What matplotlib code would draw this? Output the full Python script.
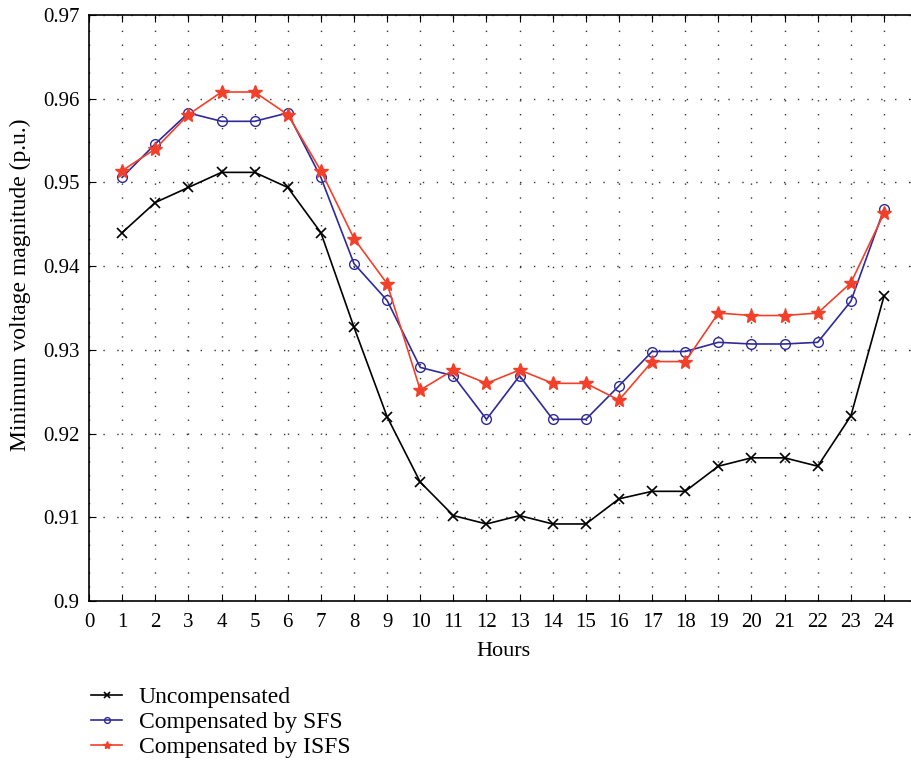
import matplotlib.pyplot as plt

hours = list(range(1, 25))

uncompensated = [0.9440, 0.9476, 0.9494, 0.9512, 0.9512, 0.9494, 0.9440, 0.9327,
                 0.9220, 0.9142, 0.9102, 0.9092, 0.9102, 0.9092, 0.9092, 0.9122,
                 0.9131, 0.9131, 0.9161, 0.9171, 0.9171, 0.9161, 0.9221, 0.9364]
sfs = [0.9506, 0.9546, 0.9583, 0.9573, 0.9573, 0.9583, 0.9506, 0.9403,
       0.9359, 0.9279, 0.9269, 0.9217, 0.9269, 0.9217, 0.9217, 0.9257,
       0.9298, 0.9298, 0.9309, 0.9307, 0.9307, 0.9309, 0.9358, 0.9468]
isfs = [0.9514, 0.9540, 0.9581, 0.9608, 0.9608, 0.9581, 0.9514, 0.9433,
        0.9379, 0.9252, 0.9276, 0.9260, 0.9276, 0.9260, 0.9260, 0.9240,
        0.9286, 0.9286, 0.9344, 0.9341, 0.9341, 0.9344, 0.9380, 0.9463]

labels = ['Uncompensated', 'Compensated by SFS', 'Compensated by ISFS']

plt.rcParams['font.family'] = ['Liberation Serif', 'DejaVu Serif']
plt.rcParams['font.size'] = 15

fig = plt.figure(figsize=(9.11, 7.65), dpi=100)
ax = fig.add_axes([0.0977, 0.2144, 0.909, 0.766])

ax.plot(hours, uncompensated, color='black', marker='x', markersize=7,
        linewidth=1.2, markeredgewidth=1.2, label=labels[0])
ax.plot(hours, sfs, color='#2e2a9a', marker='o', markersize=7,
        markerfacecolor='none', linewidth=1.2, label=labels[1])
ax.plot(hours, isfs, color='#f2402a', marker='*', markersize=10,
        linewidth=1.2, label=labels[2])

ax.set_xlim(0, 25)
ax.set_ylim(0.90, 0.97)
ax.set_xticks(range(0, 25))
ax.set_yticks([0.90, 0.91, 0.92, 0.93, 0.94, 0.95, 0.96, 0.97])
ax.set_yticklabels(['0.9', '0.91', '0.92', '0.93', '0.94', '0.95', '0.96', '0.97'])
ax.tick_params(direction='in', top=True, right=True, length=5, labelsize=15)
ax.tick_params(axis='x', pad=9)
ax.tick_params(axis='y', pad=7)
ax.grid(True, linestyle=(0, (1, 9)), color='#333333', linewidth=1.0)

for s in ax.spines.values():
    s.set_linewidth(1.2)

ax.set_xlabel('Hours', fontsize=16, labelpad=7)
ax.set_ylabel('Minimum voltage magnitude (p.u.)', fontsize=17)
ax.yaxis.set_label_coords(-0.07, 0.54)

fig.legend(loc='upper left', bbox_to_anchor=(0.09, 0.115), frameon=False,
           fontsize=17, handlelength=1.3, labelspacing=0.15, borderaxespad=0,
           markerscale=0.6, handletextpad=0.7)

fig.savefig('out.png', dpi=100)
